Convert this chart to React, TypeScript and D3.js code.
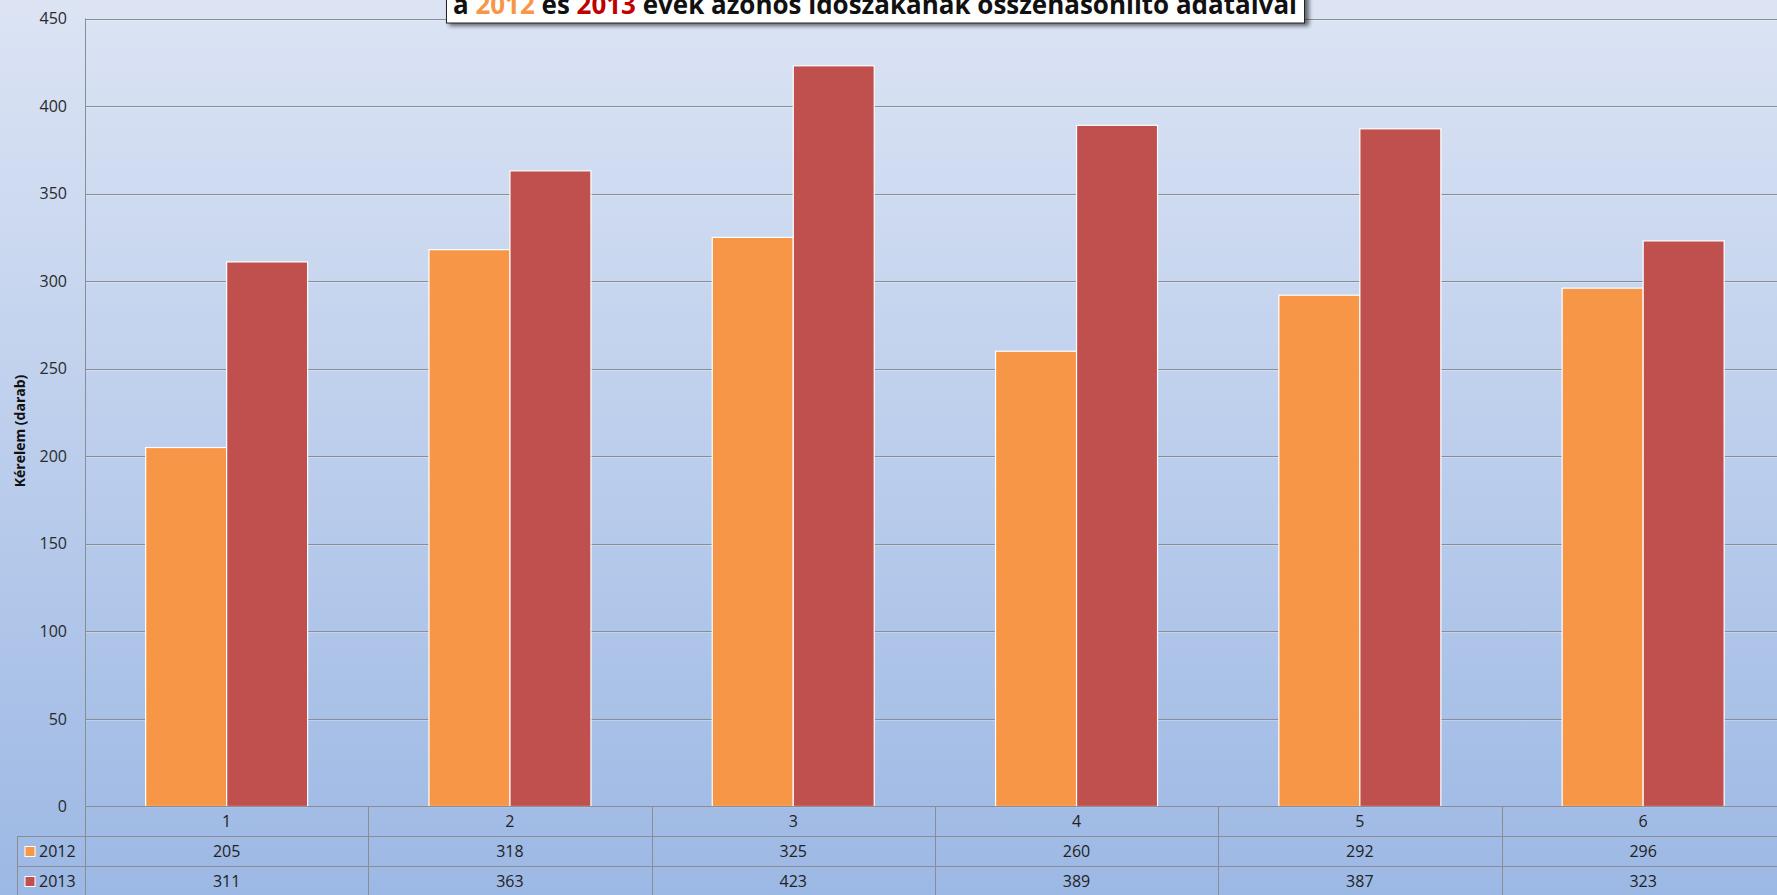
import React from "react";
import * as d3 from "d3";

const categories = ["1", "2", "3", "4", "5", "6"];
const seriesNames = ["2012", "2013"];
const values2012 = [205, 318, 325, 260, 292, 296];
const values2013 = [311, 363, 423, 389, 387, 323];
const yTicks = [0, 50, 100, 150, 200, 250, 300, 350, 400, 450];
const seriesColors = ["#F79646", "#C0504D"];

const W = 1777;
const H = 895;

export default function App() {
  const left = 85;
  const colW = 283.3;
  const y = d3.scaleLinear().domain([0, 450]).range([806.5, 18.5]);
  const x = d3
    .scaleBand<string>()
    .domain(categories)
    .range([left, left + colW * categories.length])
    .padding(0);
  const xs = d3
    .scaleBand<string>()
    .domain(seriesNames)
    .range([0, x.bandwidth()])
    .paddingInner(0)
    .paddingOuter(0.749);
  const data = [values2012, values2013];
  const rowY = [806.5, 836.5, 866.5, 896.5];

  return (
    <svg
      width={W}
      height={H}
      style={{ position: "absolute", left: 0, top: 0, display: "block" }}
      fontFamily="'Open Sans', 'DejaVu Sans', sans-serif"
    >
      <defs>
        <linearGradient id="bg" x1="0" y1="0" x2="0" y2="1">
          <stop offset="0%" stopColor="#dce4f4" />
          <stop offset="100%" stopColor="#9cb8e4" />
        </linearGradient>
        <filter id="shadow" x="-5%" y="-50%" width="110%" height="250%">
          <feGaussianBlur stdDeviation="2" />
        </filter>
      </defs>
      <rect x={0} y={0} width={W} height={H} fill="url(#bg)" />

      {/* gridlines */}
      {yTicks
        .filter((t) => t > 0)
        .map((t) => (
          <g key={t}>
            <line x1={left} x2={W} y1={Math.round(y(t)) + 0.5} y2={Math.round(y(t)) + 0.5} stroke="#8a8d92" strokeWidth={1} />
            <line x1={left} x2={W} y1={Math.round(y(t)) + 1.5} y2={Math.round(y(t)) + 1.5} stroke="#ffffff" strokeOpacity={0.25} strokeWidth={1} />
          </g>
        ))}

      {/* y axis line */}
      <line x1={left + 0.5} x2={left + 0.5} y1={y(450)} y2={H} stroke="#8a8d92" />

      {/* y tick labels */}
      {yTicks.map((t) => (
        <text key={t} x={67} y={y(t)} dy="0.35em" textAnchor="end" fontSize={16} fill="#2a2a2a">
          {t}
        </text>
      ))}

      {/* y axis title */}
      <text
        transform={`translate(25, 431) rotate(-90)`}
        textAnchor="middle"
        fontSize={14}
        fontWeight="bold"
        fill="#111"
      >
        Kérelem (darab)
      </text>

      {/* bars */}
      {categories.map((c, i) => (
        <g key={c} transform={`translate(${x(c)},0)`}>
          {seriesNames.map((s, j) => (
            <rect
              key={s}
              x={xs(s)}
              y={y(data[j][i])}
              width={xs.bandwidth()}
              height={y(0) - y(data[j][i])}
              fill={seriesColors[j]}
              stroke="#ffffff"
              strokeWidth={1.2}
            />
          ))}
        </g>
      ))}

      {/* data table */}
      <line x1={left} x2={W} y1={rowY[0]} y2={rowY[0]} stroke="#8a8d92" />
      <line x1={17} x2={W} y1={rowY[1]} y2={rowY[1]} stroke="#8a8d92" />
      <line x1={17} x2={W} y1={rowY[2]} y2={rowY[2]} stroke="#8a8d92" />
      <line x1={17} x2={W} y1={rowY[3]} y2={rowY[3]} stroke="#8a8d92" />
      <line x1={17.5} x2={17.5} y1={rowY[1]} y2={H} stroke="#8a8d92" />
      {categories.map((c, i) =>
        i === 0 ? null : (
          <line key={c} x1={Math.round(x(c)!) + 0.5} x2={Math.round(x(c)!) + 0.5} y1={rowY[0]} y2={H} stroke="#8a8d92" />
        )
      )}
      {categories.map((c) => (
        <text key={c} x={x(c)! + x.bandwidth() / 2} y={(rowY[0] + rowY[1]) / 2} dy="0.35em" textAnchor="middle" fontSize={16} fill="#222">
          {c}
        </text>
      ))}
      {seriesNames.map((s, j) => (
        <g key={s}>
          <rect x={25} y={(rowY[j + 1] + rowY[j + 2]) / 2 - 5} width={10} height={10} fill={seriesColors[j]} stroke="#ffffff" strokeWidth={1} />
          <text x={39} y={(rowY[j + 1] + rowY[j + 2]) / 2} dy="0.35em" fontSize={16} fill="#222">
            {s}
          </text>
          {categories.map((c, i) => (
            <text key={c} x={x(c)! + x.bandwidth() / 2} y={(rowY[j + 1] + rowY[j + 2]) / 2} dy="0.35em" textAnchor="middle" fontSize={16} fill="#222">
              {data[j][i]}
            </text>
          ))}
        </g>
      ))}

      {/* title box */}
      <rect x={449} y={-20} width={860} height={46} fill="#000" opacity={0.55} filter="url(#shadow)" />
      <rect x={446.5} y={-20} width={858} height={43} fill="#ffffff" stroke="#222" strokeWidth={1} />
      <text x={453} y={14} fontSize={27} fontWeight="bold" fill="#111" textLength={844} lengthAdjust="spacingAndGlyphs">
        a <tspan fill="#F79646">2012</tspan> és <tspan fill="#C00000">2013</tspan> évek azonos időszakának összehasonlító adataival
      </text>
    </svg>
  );
}
